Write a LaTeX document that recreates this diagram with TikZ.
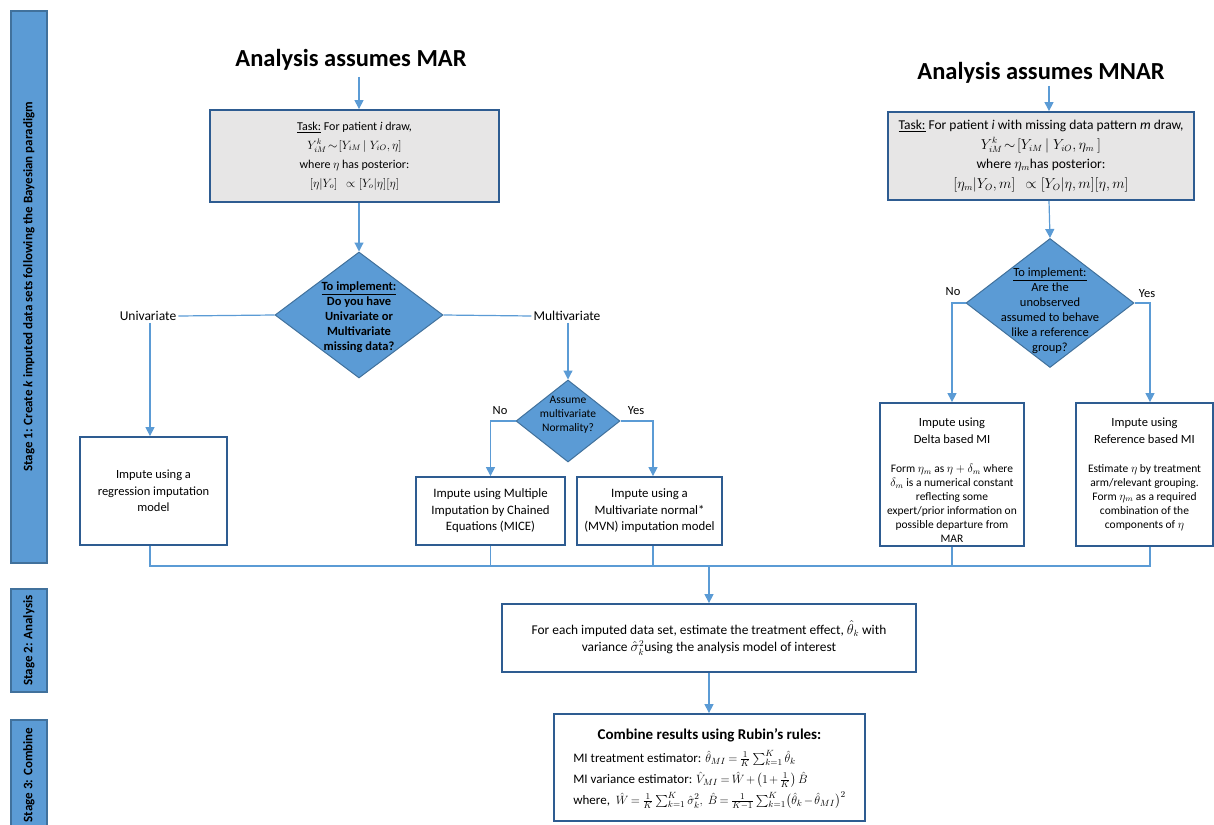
\documentclass[tikz,border=0pt]{standalone}
\usepackage{fontspec}
\setmainfont{Carlito}
\usepackage{amsmath}
\usetikzlibrary{arrows.meta,shapes.geometric}
\definecolor{arrowblue}{RGB}{91,155,213}
\definecolor{boxblue}{RGB}{46,92,145}
\definecolor{diafill}{RGB}{91,155,213}
\definecolor{diaborder}{RGB}{65,113,156}
\definecolor{taskgray}{RGB}{231,230,230}
\tikzset{
  stagebar/.style={draw=diaborder, fill=diafill, line width=1.5pt, minimum height=36pt, inner sep=0pt, rotate=90, font=\fontsize{13}{15}\selectfont\bfseries},
  taskbox/.style={draw=boxblue, fill=taskgray, line width=1.8pt, align=center, inner sep=0pt, font=\fontsize{12}{19}\selectfont},
  impbox/.style={draw=boxblue, fill=white, line width=1.8pt, align=center, inner sep=0pt, font=\fontsize{12.5}{16.5}\selectfont},
  dia/.style={diamond, draw=diaborder, fill=diafill, line width=1pt, inner sep=0pt},
  diatext/.style={align=center, inner sep=0pt},
  conn/.style={draw=arrowblue, line width=1.2pt},
  arr/.style={conn, -{Triangle[width=9pt,length=9pt]}},
  bigtitle/.style={font=\fontsize{24.5}{28}\selectfont\bfseries, inner sep=0pt, anchor=base},
  lbl/.style={font=\fontsize{13.5}{15}\selectfont, inner sep=2pt},
  yn/.style={font=\fontsize{12.5}{14}\selectfont, inner sep=2pt},
  headtext/.style={align=center, inner sep=0pt, anchor=north, font=\fontsize{12.5}{17}\selectfont},
  bodytext/.style={align=center, inner sep=0pt, anchor=north, font=\fontsize{11.5}{14}\selectfont}
}
\begin{document}
\begin{tikzpicture}[x=1pt,y=-1pt]
\useasboundingbox (0,0) rectangle (1214,824);
% stage bars
\node[stagebar, minimum width=552pt] (st1) at (29,287) {Stage 1: Create \textit{k} imputed data sets following the Bayesian paradigm};
\node[stagebar, minimum width=103pt] (st2) at (29,640.5) {Stage 2: Analysis};
\node[stagebar, minimum width=110pt] (st3) at (29,775) {Stage 3: Combine};
% column axes
\coordinate (cm) at (359,0);
\coordinate (cn) at (1049,0);
\coordinate (cu) at (150,0);
\coordinate (cy) at (1150,0);
\coordinate (cmv) at (653,0);
% MAR side
\node[bigtitle] (tmar) at (351,67) {Analysis assumes MAR};
\node[taskbox, minimum width=289pt, minimum height=92pt] (mar) at (354.5,156)
  {\underline{Task:} For patient \textit{i} draw,\\
   $Y_{iM}^{k}\!\sim\![Y_{iM}\,|\;Y_{iO},\eta]$\\
   where $\eta$ has posterior:\\
   $[\eta|Y_o]\ \ \propto[Y_o|\eta][\eta]$};
\node[dia, minimum width=168pt, minimum height=126pt] (d1) at (359,315) {};
\node[diatext, font=\fontsize{12.5}{15}\selectfont\bfseries] (d1t) at (359,317)
  {\underline{To implement:}\\Do you have\\Univariate or\\Multivariate\\missing data?};
\node[lbl] (uni) at (148,316) {Univariate};
\node[lbl] (multi) at (567,316) {Multivariate};
\node[dia, minimum width=104pt, minimum height=82pt] (d2) at (568,421) {};
\node[diatext, font=\fontsize{11.5}{14}\selectfont] (d2t) at (568,415)
  {Assume\\multivariate\\Normality?};
\node[yn] (no2) at (500,411) {No};
\node[yn] (yes2) at (636,411) {Yes};
\node[impbox, minimum width=147pt, minimum height=108pt] (reg) at (153.5,491)
  {Impute using a\\regression imputation\\model};
\node[impbox, font=\fontsize{12.8}{16.5}\selectfont, minimum width=149pt, minimum height=68pt] (mice) at (490.5,511)
  {Impute using Multiple\\Imputation by Chained\\Equations (MICE)};
\node[impbox, font=\fontsize{12.8}{16.5}\selectfont, minimum width=145pt, minimum height=68pt] (mvn) at (649.5,511)
  {Impute using a\\Multivariate normal*\\(MVN) imputation model};
% MNAR side
\node[bigtitle] (tmnar) at (1041,80) {Analysis assumes MNAR};
\node[taskbox, font=\fontsize{13.5}{19.5}\selectfont, minimum width=306pt, minimum height=88pt] (mnar) at (1041,156)
  {\underline{Task:} For patient \textit{i} with missing data pattern \textit{m} draw,\\
   $Y_{iM}^{k}\!\sim\![Y_{iM}\,|\;Y_{iO},\eta_m\ ]$\\
   where $\eta_m$has posterior:\\
   $[\eta_m|Y_O,m]\ \ \propto[Y_O|\eta,m][\eta,m]$};
\node[dia, minimum width=168pt, minimum height=129pt] (d3) at (1050,303) {};
\node[diatext, font=\fontsize{12.5}{15}\selectfont] (d3t) at (1050,311)
  {\underline{To implement:}\\Are the\\unobserved\\assumed to behave\\like a reference\\group?};
\node[yn] (no3) at (953,292) {No};
\node[yn] (yes3) at (1147,294) {Yes};
\node[impbox, minimum width=144pt, minimum height=143pt] (delta) at (952,474.5) {};
\node[headtext] (deltah) at (952,418) {Impute using\\Delta based MI};
\node[bodytext] (deltab) at (952,464)
  {Form $\eta_m$ as $\eta+\delta_m$ where\\$\delta_m$ is a numerical constant\\reflecting some\\expert/prior information on\\possible departure from\\MAR};
\node[impbox, minimum width=137pt, minimum height=143pt] (ref) at (1144.5,474.5) {};
\node[headtext] (refh) at (1144.5,418) {Impute using\\Reference based MI};
\node[bodytext] (refb) at (1144.5,464)
  {Estimate $\eta$ by treatment\\arm/relevant grouping.\\Form $\eta_m$ as a required\\combination of the\\components of $\eta$};
% stage 2 and 3
\coordinate (bus) at (709,566);
\node[impbox, font=\fontsize{13.4}{17}\selectfont, minimum width=414pt, minimum height=68pt] (s2) at (709,638)
  {For each imputed data set, estimate the treatment effect, $\hat{\theta}_k$ with\\
   variance $\hat{\sigma}_k^2$using the analysis model of interest};
\node[impbox, font=\fontsize{13}{21}\selectfont, minimum width=311pt, minimum height=107pt] (s3) at (709.5,767.5)
  {\thickmuskip=3.5mu\medmuskip=2mu
   \begin{tabular}{@{}l@{}}
   \multicolumn{1}{c}{\fontsize{15}{18}\selectfont\bfseries Combine results using Rubin’s rules:}\\[2pt]
   MI treatment estimator: $\hat{\theta}_{MI}=\frac{1}{K}\sum_{k=1}^{K}\hat{\theta}_k$\\
   MI variance estimator: $\hat{V}_{MI}=\hat{W}+\left(1+\frac{1}{K}\right)\hat{B}$\\
   where,\ \ $\hat{W}=\frac{1}{K}\sum_{k=1}^{K}\hat{\sigma}_k^2,\ \hat{B}=\frac{1}{K-1}\sum_{k=1}^{K}\bigl(\hat{\theta}_k-\hat{\theta}_{MI}\bigr)^2$
   \end{tabular}};
% connectors MAR
\draw[arr] ([yshift=-10pt]tmar.base -| cm) -- (mar.north -| cm);
\draw[arr] (mar.south -| cm) -- (d1.north);
\draw[conn] (d1.west) -- (uni.east);
\draw[arr] (uni.south -| cu) -- (cu |- reg.north);
\draw[conn] (d1.east) -- (multi.west);
\draw[arr] (multi.south -| d2.north) -- (d2.north);
\draw[arr] (d2.west) -| (mice.north);
\draw[arr] (d2.east) -| (mvn.north -| cmv);
% connectors MNAR
\draw[arr] ([yshift=-6pt]tmnar.base -| cn) -- (mnar.north -| cn);
\draw[arr] (mnar.south -| cn) -- (d3.north);
\draw[arr] (d3.west) -| (delta.north);
\draw[arr] (d3.east) -| (ref.north -| cy);
% collector
\draw[conn] (reg.south -| cu) -- (cu |- bus) -- (cy |- bus) -- (ref.south -| cy);
\draw[conn] (mice.south) -- (mice.south |- bus);
\draw[conn] (mvn.south -| cmv) -- (cmv |- bus);
\draw[conn] (delta.south) -- (delta.south |- bus);
\draw[arr] (bus) -- (bus |- s2.north);
\draw[arr] (s2.south -| bus) -- (s3.north -| bus);
\end{tikzpicture}
\end{document}
